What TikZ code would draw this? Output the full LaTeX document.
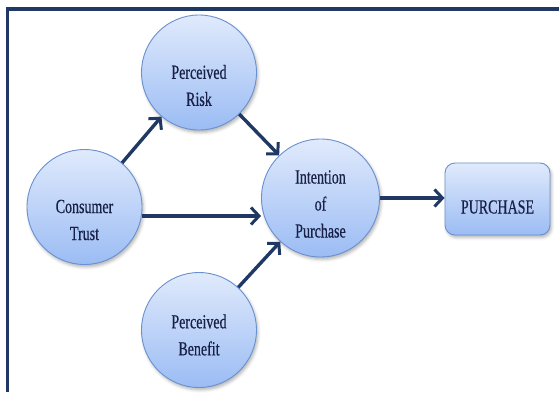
\documentclass[tikz,border=0pt]{standalone}
\usepackage{fontspec}
\setmainfont{Liberation Serif}[FakeStretch=0.7,FakeBold=0.4]
\usetikzlibrary{arrows.meta,shadows.blur}
\definecolor{navy}{RGB}{31,56,100}
\definecolor{inknavy}{RGB}{24,32,70}
\definecolor{bubtop}{RGB}{224,234,252}
\definecolor{bubbot}{RGB}{155,188,244}
\definecolor{bubedge}{RGB}{105,145,208}
\tikzset{
  bubble/.style={circle, minimum size=115pt, inner sep=0pt, draw=bubedge, line width=0.9pt,
    top color=bubtop, bottom color=bubbot,
    blur shadow={shadow xshift=1.5pt, shadow yshift=-2.5pt, shadow opacity=30, shadow blur radius=3pt}},
  outcome/.style={rectangle, rounded corners=10pt, minimum width=105pt, minimum height=72pt,
    inner sep=0pt, draw=bubedge, line width=0.9pt, top color=bubtop, bottom color=bubbot,
    blur shadow={shadow xshift=1.5pt, shadow yshift=-2.5pt, shadow opacity=30, shadow blur radius=3pt}},
  caption/.style={align=center, text=inknavy, font=\fontsize{20}{27}\selectfont, inner sep=0pt},
  link/.style={draw=navy, line width=3.4pt, -{Straight Barb[length=8pt,width=17pt,line width=3pt]}},
  frameline/.style={draw=navy, line width=3.5pt}
}
\begin{document}
\begin{tikzpicture}[x=1pt,y=1pt]
\useasboundingbox (0,0) rectangle (559,392);
% open frame: left and top edges only
\coordinate (fb) at (7.5,0);
\coordinate (fc) at (7.5,383);
\coordinate (fr) at (559,383);
\draw[frameline] (fb) -- (fc) -- (fr);

% concepts
\node[bubble] (ct) at (84.5,185) {};
\node[bubble] (pr) at (199,319.5) {};
\node[bubble] (pb) at (199,62) {};
\node[bubble, minimum size=118pt] (ip) at (320.5,194) {};
\node[outcome] (pu) at (497.5,193) {};

% labels
\node[caption] (ctt) at ([yshift=-13pt]ct.center) {Consumer\\Trust};
\node[caption] (prt) at ([yshift=-13pt]pr.center) {Perceived\\Risk};
\node[caption] (pbt) at ([yshift=-5pt]pb.center) {Perceived\\Benefit};
\node[caption] (ipt) at ([yshift=-6pt]ip.center) {Intention\\of\\Purchase};
\node[caption] (put) at ([yshift=-8pt]pu.center) {PURCHASE};

% relations
\draw[link] (ct) -- (pr);
\draw[link] (pr) -- (ip);
\draw[link] (pb) -- (ip);
\draw[link] ([yshift=-9pt]ct.east) -- ([yshift=-9pt]ct.east -| ip.west);
\draw[link] (ip.east) -- (ip.east -| pu.west);
\end{tikzpicture}
\end{document}
